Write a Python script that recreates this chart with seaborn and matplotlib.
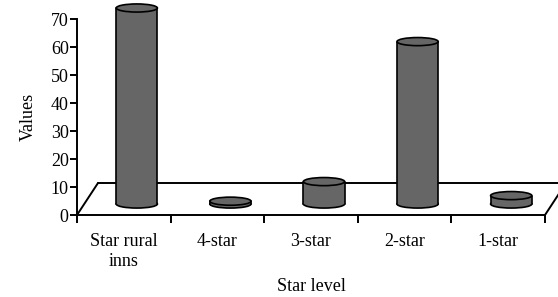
import matplotlib
matplotlib.use("Agg")
import matplotlib.pyplot as plt
import matplotlib.transforms as mtransforms
from matplotlib.patches import Ellipse
import seaborn as sns

# Data
levels = ["Star rural\ninns", "4-star", "3-star", "2-star", "1-star"]
values = [70, 1, 8, 58, 3]

sns.set_theme(style="white")
plt.rcParams["font.family"] = ["Liberation Serif", "DejaVu Serif"]

fig = plt.figure(figsize=(5.58, 2.97), dpi=100)
ax = fig.add_axes([77 / 558, 82 / 297, 468 / 558, 196 / 297])

bar_color = "#666666"
bar_w = 0.44
fs = 13
sns.barplot(x=levels, y=values, color=bar_color, width=bar_w, edgecolor="none",
            saturation=1, ax=ax, zorder=3)

ax.set_ylim(0, 70)
ax.set_xlim(-0.5, len(levels) - 0.5)

# 3D look: shift bars back into the floor
shift = mtransforms.ScaledTranslation(13 / 100, 11 / 100, fig.dpi_scale_trans)
tr = ax.transData + shift
ell_h = 2.9  # ellipse height in data units

for p in ax.patches:
    p.set_transform(tr)
    p.set_clip_on(False)
    x0 = p.get_x()
    w = p.get_width()
    h = p.get_height()
    cx = x0 + w / 2
    bottom = Ellipse((cx, 0), w, ell_h, facecolor=bar_color, edgecolor="black",
                     lw=1.2, transform=tr, zorder=2, clip_on=False)
    top = Ellipse((cx, h), w, ell_h, facecolor=bar_color, edgecolor="black",
                  lw=1.2, transform=tr, zorder=5, clip_on=False)
    ax.add_patch(bottom)
    ax.add_patch(top)
    ax.plot([x0, x0], [0, h], color="black", lw=1.2, transform=tr, zorder=4, clip_on=False)
    ax.plot([x0 + w, x0 + w], [0, h], color="black", lw=1.2, transform=tr, zorder=4, clip_on=False)

# Floor parallelogram
depth = mtransforms.ScaledTranslation(21 / 100, 32 / 100, fig.dpi_scale_trans)
fl_tr = ax.transAxes + depth
ax.plot([0, 1.05], [0, 0], color="black", lw=1.4, transform=fl_tr, clip_on=False, zorder=1)
for xa in [0, 1]:
    ax.annotate("", xy=(xa, 0), xycoords=fl_tr, xytext=(xa, 0), textcoords=ax.transAxes,
                arrowprops=dict(arrowstyle="-", color="black", lw=1.4, shrinkA=0, shrinkB=0))

# Axes styling
for s in ["top", "right"]:
    ax.spines[s].set_visible(False)
for s in ["left", "bottom"]:
    ax.spines[s].set_color("black")
    ax.spines[s].set_linewidth(1.4)

ax.set_yticks(range(0, 71, 10))
ax.tick_params(axis="y", direction="out", length=5, width=1.4, color="black",
               labelsize=fs, labelcolor="black", left=True, pad=1)

ax.set_xticks([i - 0.5 for i in range(len(levels) + 1)])
ax.set_xticklabels([])
ax.set_xticks(range(len(levels)), minor=True)
ax.set_xticklabels(levels, minor=True)
ax.tick_params(axis="x", which="major", direction="out", length=6, width=1.4,
               color="black", bottom=True)
ax.tick_params(axis="x", which="minor", length=0, labelsize=fs, labelcolor="black",
               pad=13)

ax.set_xlabel("Star level", fontsize=fs, color="black", labelpad=6)
ax.set_ylabel("Values", fontsize=fs, color="black", labelpad=10)
ax.grid(False)

fig.savefig("out.png", dpi=100, facecolor="white")
